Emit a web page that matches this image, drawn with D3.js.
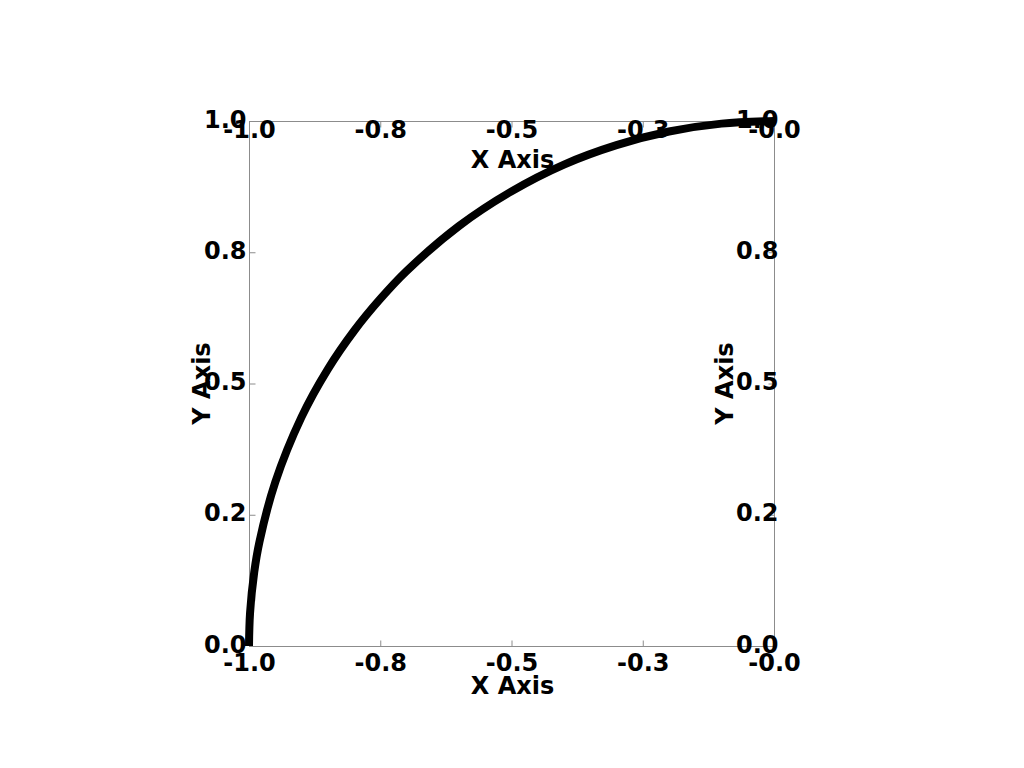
<!DOCTYPE html>
<html>
<head>
<meta charset="utf-8">
<script src="https://cdn.jsdelivr.net/npm/d3@7"></script>
<style>
  html, body { margin: 0; padding: 0; background: #fff; }
  svg text { font-family: "DejaVu Sans", sans-serif; font-weight: bold; font-size: 24px; fill: #000; }
</style>
</head>
<body>
<div id="chart"></div>
<script>
/* Quarter arc with a boxed frame, axes labelled on all four sides. */

var arcX = [-1.0, -0.998, -0.99, -0.98, -0.95, -0.9, -0.85, -0.8, -0.75, -0.7, -0.6, -0.5, -0.4, -0.3, -0.2, -0.1, 0.0];
var arcY = [0.0, 0.063, 0.141, 0.199, 0.312, 0.436, 0.527, 0.6, 0.661, 0.714, 0.8, 0.866, 0.917, 0.954, 0.98, 0.995, 1.0];

var xTicks = [-1.0, -0.75, -0.5, -0.25, 0.0];
var xTickLabels = ["-1.0", "-0.8", "-0.5", "-0.3", "-0.0"];
var yTicks = [0.0, 0.25, 0.5, 0.75, 1.0];
var yTickLabels = ["0.0", "0.2", "0.5", "0.8", "1.0"];

var xTitle = "X Axis";
var yTitle = "Y Axis";

(function () {
  var d3 = window.d3;
  var width = 1024, height = 768;
  var box = { left: 249, right: 774, top: 121, bottom: 646 };
  var grey = "#8c8c8c";

  var svg = d3.select("#chart").append("svg")
    .attr("width", width).attr("height", height)
    .attr("viewBox", "0 0 " + width + " " + height);

  var x = d3.scaleLinear().domain([-1, 0]).range([box.left, box.right]);
  var y = d3.scaleLinear().domain([0, 1]).range([box.bottom, box.top]);

  var data = arcX.map(function (v, i) { return { x: v, y: arcY[i] }; });

  /* frame */
  svg.append("rect")
    .attr("x", box.left + 0.5).attr("y", box.top + 0.5)
    .attr("width", box.right - box.left).attr("height", box.bottom - box.top)
    .attr("fill", "none").attr("stroke", grey).attr("stroke-width", 1);

  function styleAxis(sel) {
    sel.select(".domain").remove();
    sel.selectAll(".tick line").attr("stroke", grey).attr("stroke-width", 1);
    sel.attr("font-family", null).attr("font-size", null);
  }

  var xfmt = function (d, i) { return xTickLabels[i]; };
  var yfmt = function (d, i) { return yTickLabels[i]; };

  /* bottom */
  var gb = svg.append("g").attr("transform", "translate(0," + (box.bottom + 0.5) + ")")
    .call(d3.axisBottom(x).tickValues(xTicks).tickFormat(xfmt).tickSizeInner(-6).tickSizeOuter(0).tickPadding(7));
  styleAxis(gb);
  gb.selectAll(".tick text").attr("y", 24).attr("dy", null);

  /* top */
  var gt = svg.append("g").attr("transform", "translate(0," + (box.top + 0.5) + ")")
    .call(d3.axisTop(x).tickValues(xTicks).tickFormat(xfmt).tickSizeInner(-6).tickSizeOuter(0));
  styleAxis(gt);
  gt.selectAll(".tick text").attr("y", 16).attr("dy", null);

  /* left */
  var gl = svg.append("g").attr("transform", "translate(" + (box.left + 0.5) + ",0)")
    .call(d3.axisLeft(y).tickValues(yTicks).tickFormat(yfmt).tickSizeInner(-6).tickSizeOuter(0));
  styleAxis(gl);
  gl.selectAll(".tick text").attr("x", -3).attr("dy", null).attr("y", 6);

  /* right */
  var gr = svg.append("g").attr("transform", "translate(" + (box.right + 0.5) + ",0)")
    .call(d3.axisRight(y).tickValues(yTicks).tickFormat(yfmt).tickSizeInner(-6).tickSizeOuter(0));
  styleAxis(gr);
  gr.selectAll(".tick text").attr("x", 4).attr("dy", null).attr("y", 6).attr("text-anchor", "end");

  /* axis titles */
  var midX = (box.left + box.right) / 2;
  var midY = (box.top + box.bottom) / 2;
  svg.append("text").attr("x", midX + 1).attr("y", 168).attr("text-anchor", "middle").text(xTitle);
  svg.append("text").attr("x", midX + 1).attr("y", 694).attr("text-anchor", "middle").text(xTitle);
  svg.append("text").attr("transform", "translate(210," + (midY) + ") rotate(-90)")
    .attr("text-anchor", "middle").text(yTitle);
  svg.append("text").attr("transform", "translate(733," + (midY) + ") rotate(-90)")
    .attr("text-anchor", "middle").text(yTitle);

  /* the arc */
  var line = d3.line()
    .x(function (d) { return x(d.x); })
    .y(function (d) { return y(d.y); })
    .curve(d3.curveCatmullRom);

  svg.append("path").datum(data)
    .attr("fill", "none").attr("stroke", "#000").attr("stroke-width", 8)
    .attr("d", line);
})();
</script>
</body>
</html>
